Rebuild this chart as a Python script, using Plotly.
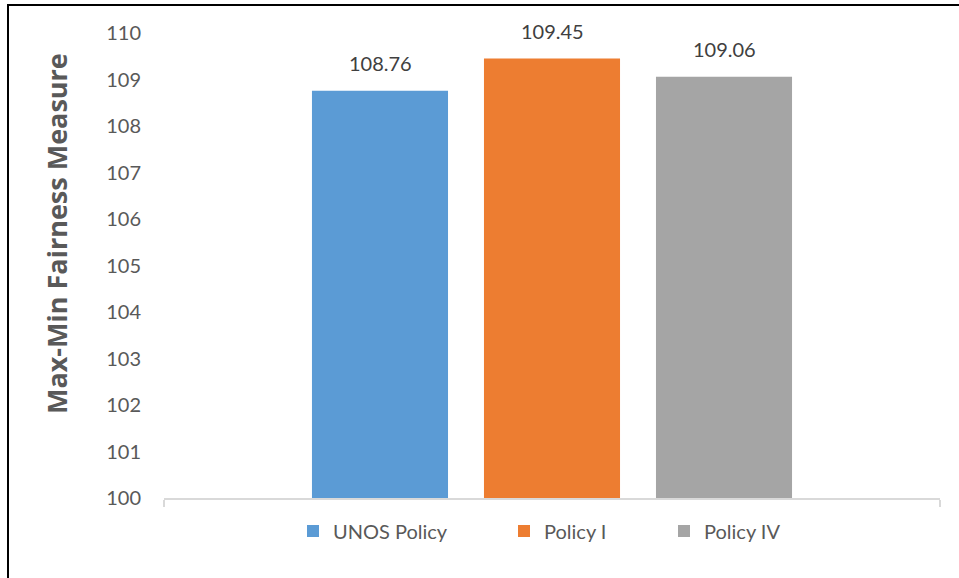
import plotly.graph_objects as go

# Max-min fairness results per allocation policy
policies = ["UNOS Policy", "Policy I", "Policy IV"]
fairness = [108.76, 109.45, 109.06]
colors = ["#5b9bd5", "#ed7d31", "#a5a5a5"]
category = ["All"]
y_ticks = list(range(100, 111))

FONT = "Lato"

# plot area in pixels: x 164..940, y 33..498
W, H = 959, 578
L, R, T, B = 164, 940, 33, 498
def px(x):
    return (x - L) / (R - L)
def py(y):
    return (B - y) / (B - T)

# each legend entry gets its own legend box so the spacing follows the text length
legend_names = ["legend", "legend2", "legend3"]
legend_left = [293, 504, 664]

fig = go.Figure()
for name, val, col, lg in zip(policies, fairness, colors, legend_names):
    fig.add_trace(go.Bar(
        x=category, y=[val], name=name, legend=lg,
        marker=dict(color=col, line=dict(width=0)),
        cliponaxis=False,
    ))

# value labels above each bar of the group
slot = 172
labels = []
for i, val in enumerate(fairness):
    labels.append(dict(
        text=f"{val:.2f}", x=0, xref="x", y=val, yref="y",
        xshift=(i - 1) * slot, yshift=14,
        xanchor="center", yanchor="bottom", showarrow=False,
        font=dict(family=FONT, size=20, color="#404040"),
    ))

legend_style = dict(
    orientation="h", xanchor="left", y=py(531), yanchor="middle",
    font=dict(family=FONT, size=20, color="#595959"),
    itemwidth=30, bgcolor="rgba(0,0,0,0)",
)
legends = {lg: dict(legend_style, x=px(xl)) for lg, xl in zip(legend_names, legend_left)}

fig.update_layout(
    width=W, height=H,
    margin=dict(l=L, r=W - R, t=T, b=H - B, pad=0),
    paper_bgcolor="white", plot_bgcolor="white",
    barmode="group", bargap=0.335, bargroupgap=0.209,
    font=dict(family=FONT, color="#595959"),
    showlegend=True,
    **legends,
    xaxis=dict(
        type="category", showticklabels=False,
        showline=True, linecolor="#d9d9d9", linewidth=1.5,
        ticks="outside", tickson="boundaries", ticklen=7,
        tickcolor="#d9d9d9", tickwidth=1.5,
        showgrid=False, zeroline=False,
    ),
    yaxis=dict(
        range=[100, 110], tickvals=y_ticks,
        tickfont=dict(family=FONT, size=20, color="#595959"),
        showline=False, showgrid=False, zeroline=False,
        ticks="", ticklabelstandoff=22,
    ),
    annotations=labels + [dict(
        text="<b>Max-Min Fairness Measure</b>", textangle=-90,
        xref="paper", yref="paper", x=px(57), y=py(233),
        xanchor="center", yanchor="middle", showarrow=False,
        font=dict(family="Open Sans", size=27, color="#595959"),
    )],
    shapes=[dict(
        type="rect", xref="paper", yref="paper",
        x0=px(8), x1=px(975), y0=py(5), y1=py(600),
        line=dict(color="black", width=2), fillcolor="rgba(0,0,0,0)",
        layer="above",
    )],
)

fig.write_html("out.html")
